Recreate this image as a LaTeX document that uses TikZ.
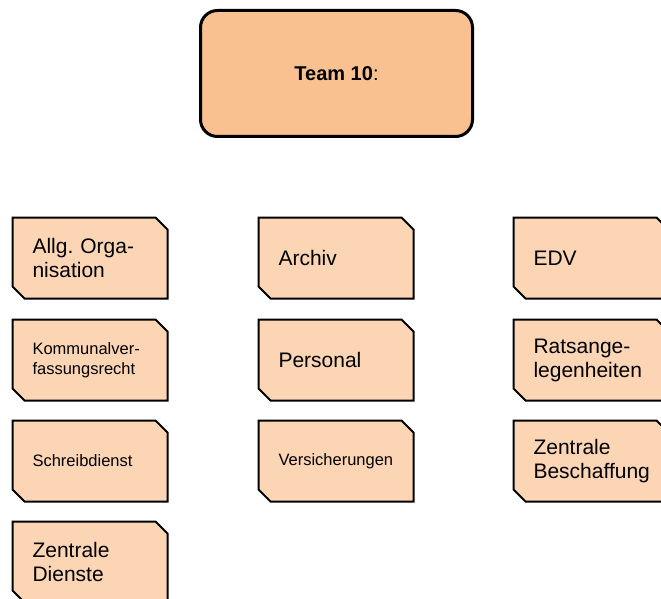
\documentclass[tikz,border=0pt]{standalone}
\usepackage{fontspec}
\setmainfont{Liberation Sans}
\usetikzlibrary{backgrounds, positioning}

\definecolor{teamfill}{HTML}{F8C18F}
\definecolor{unitfill}{HTML}{FCD5B4}

\begin{document}
\begin{tikzpicture}[
    x=1pt, y=-1pt,
    team/.style={draw=black, line width=3pt, fill=teamfill, rounded corners=17pt,
                 minimum width=272pt, minimum height=126pt, inner sep=0pt, outer sep=0pt}, % Kopfbox
    unit/.style={rectangle, minimum width=155pt, minimum height=81pt, text width=115pt,
                 inner xsep=20pt, inner ysep=0pt, outer sep=0pt, align=left}, % Sachgebiet (nur Text)
    unitline/.style={draw=black, line width=2pt, fill=unitfill, line join=miter}, % Rahmen mit Fasen
    big/.style={font=\fontsize{21}{24}\selectfont},     % grosse Schrift
    small/.style={font=\fontsize{16.5}{20}\selectfont}  % kleine Schrift
]
    \useasboundingbox (0,0) rectangle (661,599);
    \clip (0,0) rectangle (661,599);

    % 1. Team
    \node[team, font=\fontsize{20}{24}\selectfont] (team) at (336.5,73.5) {\textbf{Team 10}:};

    % 2. linke Spalte
    \node[unit, big]   (orga)    at (90,258) {Allg.\ Orga-\\nisation};
    \node[unit, small] (kvr)     at (90,360) {Kommunalver-\\fassungsrecht};
    \node[unit, small] (schreib) at (90,461) {Schreibdienst};
    \node[unit, big]   (dienste) at (90,562) {Zentrale\\Dienste};

    % 3. mittlere Spalte
    \node[unit, big]   (archiv)  at (336,258) {Archiv};
    \node[unit, big]   (personal) at (336,360) {Personal};
    \node[unit, small] (versich) at (336,461) {Versicherungen};

    % 4. rechte Spalte
    \node[unit, big]   (edv)     at (591,258) {EDV};
    \node[unit, big]   (rat)     at (591,360) {Ratsange-\\legenheiten};
    \node[unit, big]   (beschaff) at (591,461) {Zentrale\\Beschaffung};

    % 5. Rahmen hinter den Texten
    \begin{pgfonlayer}{background}
    \foreach \n in {orga,kvr,schreib,dienste,archiv,personal,versich,edv,rat,beschaff} {
        \draw[unitline] (\n.north west) -- ([xshift=-12pt]\n.north east)
            -- ([yshift=-12pt]\n.north east) -- (\n.south east)
            -- ([xshift=12pt]\n.south west) -- ([yshift=12pt]\n.south west) -- cycle;
    }
    \end{pgfonlayer}
\end{tikzpicture}
\end{document}
